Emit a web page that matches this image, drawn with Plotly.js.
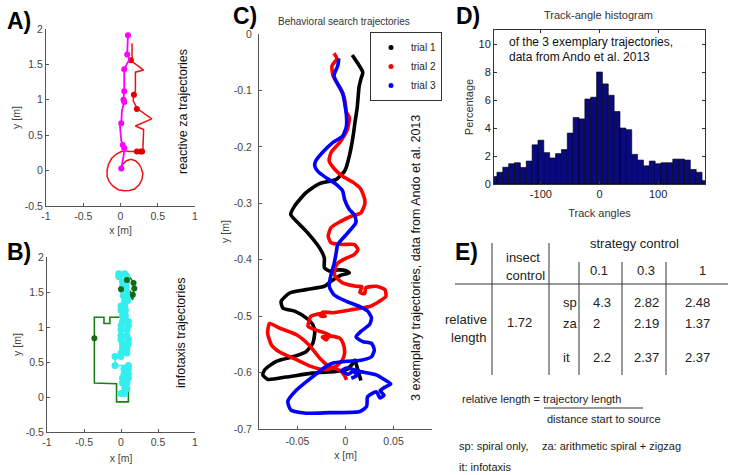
<!DOCTYPE html>
<html><head><meta charset="utf-8">
<script src="https://cdn.plot.ly/plotly-3.0.1.min.js"></script>
<style>html,body{margin:0;padding:0;background:#fff;}#chart{width:734px;height:475px;}</style>
</head><body><div id="chart"></div>
<script>
// ---------- Panel A: reactive za trajectories ----------
const aMagX = [0.10,0.09,0.12,0.05,0.05,0.04,0.05,0.02,0.01,-0.01,0.01,0.03,0.05,0.045,0.01];
const aMagY = [1.91,1.65,1.57,1.44,1.13,1.00,0.97,0.85,0.67,0.66,0.42,0.36,0.32,0.23,0.03];
const aMagDotX = [0.10,0.09,0.05,0.05,0.04,0.05,0.01,0.03,0.05,0.01];
const aMagDotY = [1.91,1.64,1.43,1.12,1.00,0.97,0.67,0.36,0.32,0.03];
const aRedX = [0.00,0.03,0.08,0.14,0.20,0.25,0.28,0.30,0.29,0.25,0.19,0.12,0.05,-0.03,-0.10,-0.15,-0.18,-0.18,-0.16,-0.12,-0.06,0.01,0.06,0.12,0.22,0.30,0.31,0.20,0.42,0.22,0.17,0.18,0.20,0.20,0.31,0.22,0.13,0.155,0.155];
const aRedY = [0.04,0.09,0.14,0.16,0.14,0.09,0.03,-0.04,-0.12,-0.20,-0.26,-0.28,-0.285,-0.27,-0.22,-0.16,-0.08,0.01,0.09,0.17,0.23,0.27,0.28,0.27,0.27,0.27,0.58,0.63,0.73,0.88,0.99,1.07,1.13,1.39,1.42,1.49,1.56,1.57,1.80];
const aRedDotX = [0.22,0.27,0.29,0.22,0.18,0.14];
const aRedDotY = [0.27,0.27,0.27,0.87,1.07,1.56];

// ---------- Panel B: infotaxis trajectories ----------
const bGreenX = [0.06,0.10,0.10,-0.06,-0.06,-0.34,-0.36,-0.36,-0.23,-0.23,-0.15,-0.15,0.01,0.01,0.03,0.02,0.05,0.03,0.00,0.06,0.08,0.13,0.17,0.18,0.16,0.16,0.12,0.13];
const bGreenY = [0.10,0.10,-0.07,-0.07,0.19,0.19,0.20,1.14,1.14,1.05,1.05,1.14,1.14,1.22,1.30,1.36,1.42,1.50,1.54,1.60,1.67,1.70,1.63,1.55,1.46,1.39,1.45,1.52];
const bGreenDotX = [-0.36,0.00,0.08,0.17,0.18,0.16];
const bGreenDotY = [0.84,1.54,1.67,1.63,1.55,1.46];
const bCyanX = [0.00,0.05,0.05,0.08,0.08,0.02,0.02,0.10,0.10,0.04,0.04,0.10,0.10,-0.08,-0.08,0.00,0.00,0.08,0.08,0.02,0.02,0.10,0.10,0.00,0.00,0.08,0.08,0.00,0.00,0.10,0.10,0.02,0.02,0.06,0.06,0.00,0.00,0.05,0.05,0.09,0.09,0.03,0.03,0.07,0.07,0.02,0.02,0.08,0.08,-0.03,-0.03,0.05];
const bCyanY = [0.05,0.05,0.12,0.12,0.20,0.20,0.27,0.27,0.33,0.33,0.40,0.40,0.45,0.45,0.58,0.58,0.63,0.63,0.70,0.70,0.76,0.76,0.82,0.82,0.88,0.88,0.96,0.96,1.02,1.02,1.08,1.08,1.16,1.16,1.24,1.24,1.30,1.30,1.38,1.38,1.45,1.45,1.52,1.52,1.58,1.58,1.65,1.65,1.72,1.72,1.76,1.76];

// ---------- Panel C: behavioral search trajectories ----------
const t1X = [0.007,0.012,0.018,0.016,0.014,0.013,0.012,0.010,0.008,0.006,0.004,0.001,-0.001,-0.010,-0.027,-0.041,-0.053,-0.057,-0.048,-0.038,-0.027,-0.022,-0.022,-0.017,-0.008,0.000,0.004,-0.004,-0.015,-0.022,-0.041,-0.058,-0.067,-0.065,-0.053,-0.041,-0.034,-0.032,-0.034,-0.041,-0.053,-0.072,-0.084,-0.086,-0.081,-0.062,-0.034,-0.010,0.001,0.008,0.010,0.012,0.016];
const t1Y = [-0.037,-0.050,-0.068,-0.080,-0.095,-0.115,-0.133,-0.155,-0.180,-0.200,-0.216,-0.235,-0.243,-0.258,-0.265,-0.281,-0.305,-0.320,-0.337,-0.355,-0.379,-0.397,-0.414,-0.420,-0.418,-0.419,-0.423,-0.427,-0.438,-0.447,-0.453,-0.459,-0.474,-0.486,-0.491,-0.503,-0.515,-0.528,-0.548,-0.563,-0.571,-0.580,-0.595,-0.604,-0.612,-0.608,-0.601,-0.598,-0.595,-0.583,-0.578,-0.590,-0.614];
const t2X = [-0.012,-0.009,-0.014,-0.013,-0.006,-0.001,0.001,0.004,0.002,-0.006,-0.015,-0.017,-0.011,-0.003,0.008,0.016,0.020,0.020,0.016,0.006,-0.005,-0.015,-0.018,-0.015,-0.003,0.009,0.013,0.009,0.001,-0.008,-0.011,-0.011,-0.003,0.011,0.017,0.015,0.020,0.021,0.032,0.041,0.042,0.035,0.025,0.008,-0.013,-0.024,-0.026,-0.021,-0.027,-0.036,-0.038,-0.039,-0.032,-0.017,-0.020,-0.024,-0.017,-0.006,-0.002,-0.001,-0.003,-0.010,-0.020,-0.036,-0.051,-0.069,-0.077,-0.081,-0.079,-0.069,-0.051,-0.038,-0.027,-0.017,-0.006,-0.001,0.001];
const t2Y = [-0.034,-0.044,-0.056,-0.074,-0.095,-0.115,-0.139,-0.148,-0.169,-0.192,-0.210,-0.225,-0.240,-0.252,-0.263,-0.275,-0.293,-0.302,-0.317,-0.323,-0.332,-0.343,-0.358,-0.370,-0.373,-0.373,-0.382,-0.391,-0.397,-0.406,-0.417,-0.429,-0.441,-0.447,-0.448,-0.458,-0.460,-0.450,-0.447,-0.453,-0.465,-0.474,-0.483,-0.488,-0.494,-0.493,-0.500,-0.500,-0.496,-0.500,-0.509,-0.518,-0.524,-0.533,-0.542,-0.537,-0.535,-0.539,-0.551,-0.565,-0.577,-0.589,-0.595,-0.589,-0.577,-0.563,-0.551,-0.530,-0.513,-0.521,-0.533,-0.551,-0.574,-0.589,-0.596,-0.605,-0.613];
const t3X = [-0.007,-0.008,-0.012,-0.008,-0.003,-0.001,0.001,0.001,-0.003,-0.013,-0.024,-0.031,-0.032,-0.029,-0.020,-0.010,-0.003,-0.001,0.004,0.009,0.011,0.010,0.001,-0.008,-0.010,-0.012,-0.015,-0.017,-0.012,0.001,0.015,0.023,0.027,0.025,0.016,0.011,0.018,0.027,0.030,0.027,0.016,0.001,-0.013,-0.020,-0.034,-0.051,-0.060,-0.057,-0.041,-0.017,0.015,0.022,0.023,0.032,0.036,0.040,0.036,0.042,0.047,0.041,0.032,0.015,0.001,-0.004,0.003,0.008,0.012,0.006];
const t3Y = [-0.043,-0.056,-0.074,-0.089,-0.104,-0.121,-0.145,-0.163,-0.181,-0.192,-0.210,-0.225,-0.234,-0.243,-0.255,-0.266,-0.278,-0.293,-0.311,-0.320,-0.332,-0.337,-0.355,-0.373,-0.391,-0.408,-0.426,-0.447,-0.462,-0.474,-0.483,-0.491,-0.503,-0.515,-0.527,-0.537,-0.545,-0.548,-0.560,-0.572,-0.578,-0.580,-0.583,-0.589,-0.607,-0.631,-0.651,-0.666,-0.672,-0.671,-0.669,-0.660,-0.643,-0.634,-0.645,-0.640,-0.632,-0.625,-0.620,-0.613,-0.604,-0.598,-0.592,-0.597,-0.603,-0.598,-0.605,-0.610];
const trialNames = ['trial 1','trial 2','trial 3'];

// ---------- Panel D: track-angle histogram ----------
const angleBins = [-180,-170,-160,-150,-140,-130,-120,-110,-100,-90,-80,-70,-60,-50,-40,-30,-20,-10,0,10,20,30,40,50,60,70,80,90,100,110,120,130,140,150,160,170,180];
const anglePct = [0.53,0.84,1.2,1.45,1.52,1.18,1.64,2.8,3.13,2.24,1.86,2.17,2.46,3.64,4.75,4.65,6.07,6.2,8.0,7.15,6.34,5.18,4.0,3.88,2.12,1.71,1.3,1.64,1.45,1.52,1.52,1.78,1.78,1.71,1.04,0.84,0.24];

// ---------- Panel E: table ----------
const stratLevels = ['0.1','0.3','1'];
const stratRows = ['sp','za','it'];
const insectRelLen = '1.72';
const relLen01 = ['4.3','2','2.2'];
const relLen03 = ['2.82','2.19','2.37'];
const relLen1 = ['2.48','1.37','2.37'];

// tick labels
const abTickX = [-1,-0.5,0,0.5,1], abTickXText = ['-1','-0.5','0','0.5','1'];
const abTickY = [-0.5,0,0.5,1,1.5,2], abTickYText = ['-0.5','0','0.5','1','1.5','2'];
const cTickX = [-0.05,0,0.05], cTickXText = ['-0.05','0','0.05'];
const cTickY = [-0.7,-0.6,-0.5,-0.4,-0.3,-0.2,-0.1,0], cTickYText = ['-0.7','-0.6','-0.5','-0.4','-0.3','-0.2','-0.1','0'];
const dTickX = [-100,0,100], dTickXText = ['-100','0','100'];
const dTickY = [0,2,4,6,8,10];

// ---------- build ----------
const W = 734, H = 475;
const px = v => v / W, py = v => 1 - v / H;
const FONT = 'Liberation Sans, Arial, Helvetica, sans-serif';
const cLine = c => ({color:c, width:3.6, shape:'spline', smoothing:0.6});

const traces = [
  {type:'scatter', mode:'lines', x:aRedX, y:aRedY, xaxis:'x', yaxis:'y', line:{color:'#ee1111', width:1.5}, showlegend:false, hoverinfo:'skip'},
  {type:'scatter', mode:'markers', x:aRedDotX, y:aRedDotY, xaxis:'x', yaxis:'y', marker:{color:'#e00000', size:6}, showlegend:false, hoverinfo:'skip'},
  {type:'scatter', mode:'lines', x:aMagX, y:aMagY, xaxis:'x', yaxis:'y', line:{color:'#ff00ff', width:1.8}, showlegend:false, hoverinfo:'skip'},
  {type:'scatter', mode:'markers', x:aMagDotX, y:aMagDotY, xaxis:'x', yaxis:'y', marker:{color:'#ff00ff', size:6}, showlegend:false, hoverinfo:'skip'},
  {type:'scatter', mode:'lines', x:bGreenX, y:bGreenY, xaxis:'x2', yaxis:'y2', line:{color:'#1a7f1a', width:1.6}, showlegend:false, hoverinfo:'skip'},
  {type:'scatter', mode:'lines+markers', x:bCyanX, y:bCyanY, xaxis:'x2', yaxis:'y2', line:{color:'#33eeee', width:1.6}, marker:{color:'#33eeee', size:7}, showlegend:false, hoverinfo:'skip'},
  {type:'scatter', mode:'markers', x:bGreenDotX, y:bGreenDotY, xaxis:'x2', yaxis:'y2', marker:{color:'#156a15', size:6}, showlegend:false, hoverinfo:'skip'},
  {type:'scatter', mode:'lines', x:t1X, y:t1Y, xaxis:'x3', yaxis:'y3', line:cLine('#000000'), showlegend:false, hoverinfo:'skip'},
  {type:'scatter', mode:'lines', x:t2X, y:t2Y, xaxis:'x3', yaxis:'y3', line:cLine('#ff0000'), showlegend:false, hoverinfo:'skip'},
  {type:'scatter', mode:'lines', x:t3X, y:t3Y, xaxis:'x3', yaxis:'y3', line:cLine('#0000ff'), showlegend:false, hoverinfo:'skip'},
  {type:'scatter', mode:'markers', x:[null], y:[null], xaxis:'x3', yaxis:'y3', name:trialNames[0], marker:{color:'#000000', size:5}},
  {type:'scatter', mode:'markers', x:[null], y:[null], xaxis:'x3', yaxis:'y3', name:trialNames[1], marker:{color:'#ff0000', size:5}},
  {type:'scatter', mode:'markers', x:[null], y:[null], xaxis:'x3', yaxis:'y3', name:trialNames[2], marker:{color:'#0000ff', size:5}},
  {type:'bar', x:angleBins, y:anglePct, width:10, xaxis:'x4', yaxis:'y4', marker:{color:'#0a0a80', line:{color:'#000000', width:0.6}}, showlegend:false, hoverinfo:'skip'}
];

const axBase = {showgrid:false, zeroline:false, showline:true, linecolor:'#555', linewidth:1, ticks:'inside', ticklen:3, tickcolor:'#555', tickfont:{family:FONT, size:10.5, color:'#444'}, title:{font:{family:FONT, size:10.5, color:'#444'}}};
function ax(extra){ return Object.assign(JSON.parse(JSON.stringify(axBase)), extra); }
const axTitleFont = {family:FONT, size:10.5, color:'#444'};

const ann = [];
function text(t, x, y, o){ ann.push(Object.assign({text:t, x:px(x), y:py(y), xref:'paper', yref:'paper', showarrow:false, xanchor:'center', yanchor:'middle', font:{family:FONT, size:12, color:'#111'}}, o||{})); }
function bold(t, x, y){ text('<b>'+t+'</b>', x, y, {font:{family:FONT, size:23, color:'#000'}}); }

bold('A)', 19, 21); bold('B)', 19, 252); bold('C)', 245, 16); bold('D)', 468, 16); bold('E)', 466, 252);
text('reactive za trajectories', 183, 112, {textangle:-90, font:{family:FONT, size:12.5, color:'#111'}});
text('infotaxis trajectories', 181, 333, {textangle:-90, font:{family:FONT, size:12.5, color:'#111'}});
text('3 exemplary trajectories, data from Ando et al. 2013', 416, 258, {textangle:-90, font:{family:FONT, size:12.5, color:'#111'}});
text('Behavioral search trajectories', 344, 22, {font:{family:FONT, size:10, color:'#333'}});
text('Track-angle histogram', 598, 15, {font:{family:FONT, size:11, color:'#333'}});
text('of the 3 exemplary trajectories,', 507, 42, {xanchor:'left', font:{family:FONT, size:12, color:'#111'}});
text('data from Ando et al. 2013', 507, 57, {xanchor:'left', font:{family:FONT, size:12, color:'#111'}});

// table texts
const tf = {family:FONT, size:13, color:'#222'};
text('insect', 523, 257, {font:tf});
text('control', 525, 275, {font:tf});
text('strategy control', 634, 244, {font:tf});
const headerX = [599, 646, 702];
stratLevels.forEach((s,i)=>text(s, headerX[i], 270, {font:tf}));
const rowY = [302, 323, 357];
stratRows.forEach((r,i)=>text(r, 561, rowY[i], {xanchor:'left', font:tf}));
text('relative', 466, 319, {font:tf});
text('length', 468, 337, {font:tf});
text(insectRelLen, 519, 322, {font:tf});
relLen01.forEach((v,i)=>text(v, 591, rowY[i], {xanchor:'left', font:tf}));
relLen03.forEach((v,i)=>text(v, 646, rowY[i], {font:tf}));
relLen1.forEach((v,i)=>text(v, 697, rowY[i], {font:tf}));
const nf = {family:FONT, size:11, color:'#222'};
text('relative length = trajectory length', 460, 399, {xanchor:'left', font:nf});
text('distance start to source', 545, 419, {xanchor:'left', font:nf});
text('sp: spiral only,', 457, 446, {xanchor:'left', font:nf});
text('za: arithmetic spiral + zigzag', 540, 446, {xanchor:'left', font:nf});
text('it: infotaxis', 457, 467, {xanchor:'left', font:nf});

const shapes = [];
function seg(x0,y0,x1,y1){ shapes.push({type:'line', xref:'paper', yref:'paper', x0:px(x0), y0:py(y0), x1:px(x1), y1:py(y1), line:{color:'#333', width:1}}); }
seg(492,243,492,375); seg(549,243,549,375); seg(579,262,579,375); seg(622,262,622,375); seg(666,262,666,375);
seg(455,284,728,284);
seg(544,408,643,408);

const layout = {
  width:W, height:H, margin:{l:0,r:0,t:0,b:0}, paper_bgcolor:'#fff', plot_bgcolor:'rgba(0,0,0,0)',
  font:{family:FONT},
  showlegend:true,
  legend:{x:px(370), y:py(32), xanchor:'left', yanchor:'top', bordercolor:'#333', borderwidth:1, bgcolor:'#fff', font:{family:FONT, size:10, color:'#222'}, tracegroupgap:0},
  xaxis: ax({domain:[px(46),px(195)], range:[-1,1], anchor:'y', tickvals:abTickX, ticktext:abTickXText, title:{text:'x [m]', standoff:6, font:axTitleFont}}),
  yaxis: ax({domain:[py(206),py(29)], range:[-0.5,2], anchor:'x', tickvals:abTickY, ticktext:abTickYText, title:{text:'y [m]', standoff:2, font:axTitleFont}}),
  xaxis2: ax({domain:[px(47),px(195)], range:[-1,1], anchor:'y2', tickvals:abTickX, ticktext:abTickXText, title:{text:'x [m]', standoff:8, font:axTitleFont}}),
  yaxis2: ax({domain:[py(432),py(257)], range:[-0.5,2], anchor:'x2', tickvals:abTickY, ticktext:abTickYText, title:{text:'y [m]', standoff:2, font:axTitleFont}}),
  xaxis3: ax({domain:[px(259),px(432)], range:[-0.09,0.09], anchor:'y3', tickvals:cTickX, ticktext:cTickXText, ticklabelstandoff:2, title:{text:'x [m]', standoff:6, font:axTitleFont}}),
  yaxis3: ax({domain:[py(429),py(34)], range:[-0.7,0], anchor:'x3', tickvals:cTickY, ticktext:cTickYText, ticklabelstandoff:4, title:{text:'y [m]', standoff:2, font:axTitleFont}}),
  xaxis4: ax({domain:[px(494),px(705)], range:[-180,180], anchor:'y4', mirror:'ticks', linecolor:'#333', tickcolor:'#333', tickvals:dTickX, ticktext:dTickXText, tickfont:{family:FONT,size:11,color:'#222'}, title:{text:'Track angles', standoff:10, font:{family:FONT,size:11,color:'#333'}}}),
  yaxis4: ax({domain:[py(184),py(30)], range:[0,11], anchor:'x4', mirror:'ticks', linecolor:'#333', tickcolor:'#333', tickvals:dTickY, tickfont:{family:FONT,size:11,color:'#222'}, title:{text:'Percentage', standoff:2, font:{family:FONT,size:11,color:'#333'}}}),
  bargap:0,
  annotations:ann,
  shapes:shapes
};

Plotly.newPlot('chart', traces, layout, {displayModeBar:false, staticPlot:true});
</script></body></html>
